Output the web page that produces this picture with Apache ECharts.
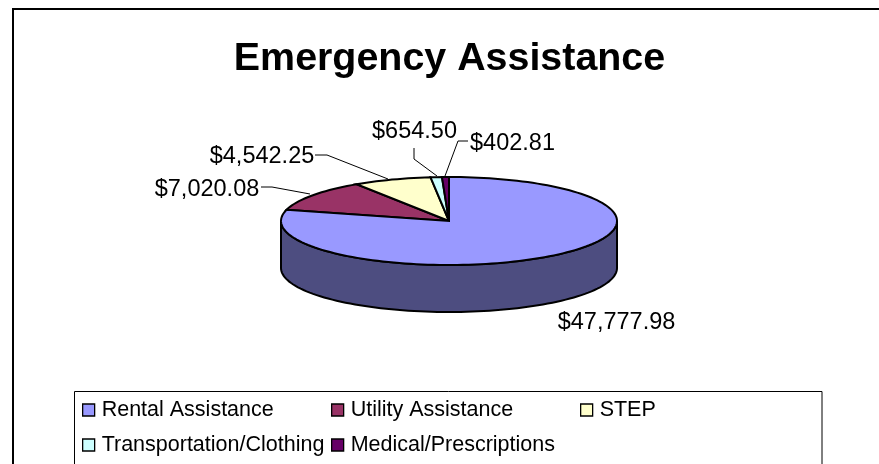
<!DOCTYPE html>
<html>
<head>
<meta charset="utf-8">
<style>
html, body { margin: 0; padding: 0; background: #fff; overflow: hidden; }
#chart { width: 879px; height: 464px; }
</style>
<script src="https://cdn.jsdelivr.net/npm/echarts@6/dist/echarts.min.js"></script>
</head>
<body>
<div id="chart"></div>
<script>
var categories = ['Rental Assistance', 'Utility Assistance', 'STEP', 'Transportation/Clothing', 'Medical/Prescriptions'];
var amounts = [47777.98, 7020.08, 4542.25, 654.50, 402.81];
var amountLabels = ['$47,777.98', '$7,020.08', '$4,542.25', '$654.50', '$402.81'];
var sliceColors = ['#9999ff', '#993366', '#ffffcc', '#ccffff', '#660066'];
var wallColors = ['#4d4d80', '#4d1a33', '#808066', '#668080', '#330033'];

var total = amounts.reduce(function (a, b) { return a + b; }, 0);
var depth = 47;

/* running start of each slice, in degrees clockwise from 12 o'clock */
var startDeg = [];
var sum = 0;
amounts.forEach(function (v) {
	startDeg.push(sum / total * 360);
	sum += v;
});

function rimPoints(api, from, to, drop) {
	var pts = [];
	var steps = Math.max(2, Math.ceil((to - from) / 2));
	for (var i = 0; i <= steps; i++) {
		var a = (from + (to - from) * i / steps) * Math.PI / 180;
		var p = api.coord([Math.sin(a), Math.cos(a)]);
		pts.push([p[0], p[1] + drop]);
	}
	return pts;
}

function renderSlice(index) {
	return function (params, api) {
		var from = startDeg[index];
		var to = from + api.value(0) / total * 360;
		var children = [];
		var lineStyle = { stroke: '#000', lineWidth: 2 };

		/* visible front wall is the part between 3 and 9 o'clock */
		var wallFrom = Math.max(from, 90);
		var wallTo = Math.min(to, 270);
		if (wallTo > wallFrom) {
			var top = rimPoints(api, wallFrom, wallTo, 0);
			var bottom = rimPoints(api, wallFrom, wallTo, depth).reverse();
			children.push({
				type: 'polygon',
				shape: { points: top.concat(bottom) },
				style: Object.assign({ fill: wallColors[index] }, lineStyle)
			});
		}

		var centre = api.coord([0, 0]);
		children.push({
			type: 'polygon',
			shape: { points: [centre].concat(rimPoints(api, from, to, 0)) },
			style: Object.assign({ fill: sliceColors[index] }, lineStyle)
		});
		return { type: 'group', children: children };
	};
}

/* label anchor and leader line, px */
var labelPos = [
	{ x: 616.5, y: 322.5, line: null },
	{ x: 207, y: 190, line: [[261, 187], [272, 187], [310, 194]] },
	{ x: 262, y: 157, line: [[315, 155], [327, 155], [388, 179]] },
	{ x: 414.5, y: 131.5, line: [[414, 148], [414, 159], [437, 176]] },
	{ x: 512.5, y: 143.5, line: [[468, 141], [458, 141], [445, 176]] }
];

/* frame runs off the right and bottom of the picture */
var graphics = [
	{ type: 'rect', silent: true, z: 0, shape: { x: 13, y: 9, width: 900, height: 500 }, style: { fill: '#fff', stroke: '#000', lineWidth: 2 } },
	{ type: 'rect', silent: true, z: 1, shape: { x: 74.5, y: 391.5, width: 747.5, height: 90 }, style: { fill: '#fff', stroke: '#000', lineWidth: 1 } }
];
amountLabels.forEach(function (t, i) {
	var p = labelPos[i];
	graphics.push({
		type: 'text', z: 20, x: p.x, y: p.y,
		style: { text: t, fill: '#000', font: '23.5px "Liberation Sans", Arial, sans-serif', align: 'center', verticalAlign: 'middle' }
	});
	if (p.line) {
		graphics.push({
			type: 'polyline', z: 20, silent: true,
			shape: { points: p.line },
			style: { fill: 'none', stroke: '#000', lineWidth: 1 }
		});
	}
});

var chart = echarts.init(document.getElementById('chart'), null, { renderer: 'canvas' });

/* one legend per entry so the two rows line up in columns */
function legendItem(left, top, name) {
	return {
		left: left, top: top, padding: 0,
		data: [name], icon: 'rect', itemWidth: 12, itemHeight: 12,
		selectedMode: false,
		itemStyle: { borderColor: '#000', borderWidth: 1.3 },
		textStyle: { color: '#000', fontSize: 21.5, fontFamily: '"Liberation Sans", Arial, sans-serif', padding: [0, 0, 2, 2] }
	};
}

chart.setOption({
	animation: false,
	backgroundColor: '#fff',
	title: {
		text: 'Emergency Assistance', left: 444.5, textAlign: 'center', top: 35,
		textStyle: { color: '#000', fontSize: 39.4, fontWeight: 'bold', fontFamily: '"Liberation Sans", Arial, sans-serif' }
	},
	legend: [
		legendItem(82, 399, categories[0]),
		legendItem(331, 399, categories[1]),
		legendItem(580, 399, categories[2]),
		legendItem(82, 434, categories[3]),
		legendItem(331, 434, categories[4])
	],
	grid: { left: 281, top: 177, width: 336, height: 88 },
	xAxis: { type: 'value', min: -1, max: 1, show: false },
	yAxis: { type: 'value', min: -1, max: 1, show: false },
	graphic: graphics,
	series: categories.map(function (name, i) {
		return {
			name: name,
			type: 'custom',
			coordinateSystem: 'cartesian2d',
			clip: false,
			z: 5 + (i === 0 ? 1 : 0),
			itemStyle: { color: sliceColors[i] },
			renderItem: renderSlice(i),
			data: [[amounts[i]]],
			encode: { x: [], y: [] }
		};
	})
});
</script>
</body>
</html>
